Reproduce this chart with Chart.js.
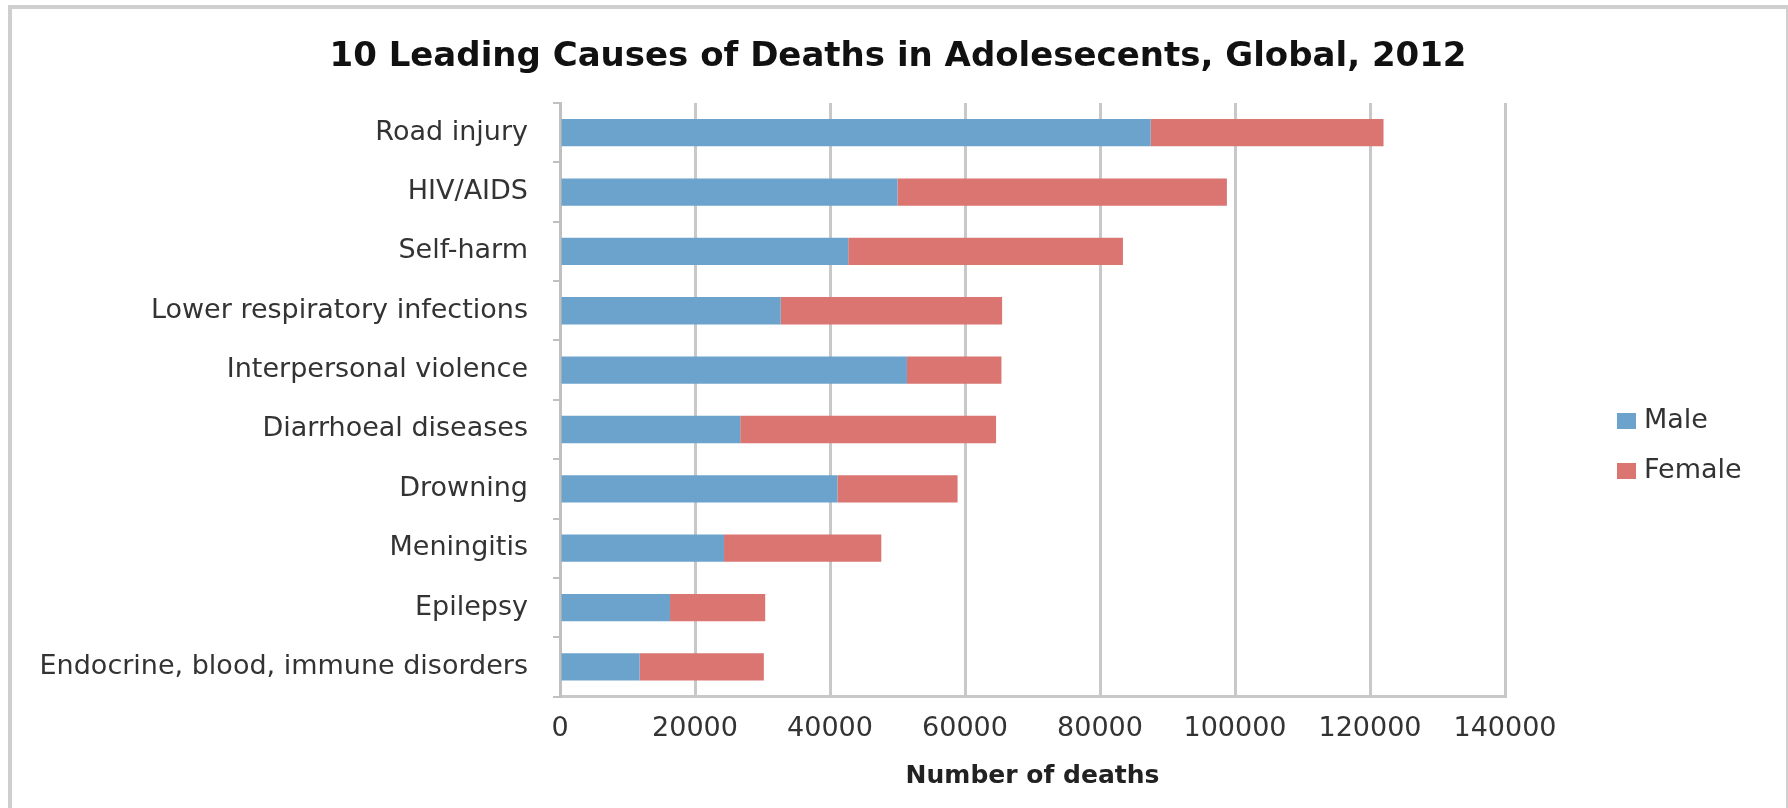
<!DOCTYPE html>
<html>
<head>
<meta charset="utf-8">
<script src="https://cdn.jsdelivr.net/npm/chart.js@4/dist/chart.umd.min.js"></script>
<style>
    body { margin: 0; background: #fff; overflow: hidden; }
    #wrap { position: relative; width: 1788px; height: 808px; overflow: hidden; }
    #frame { position: absolute; left: 8px; top: 5px; width: 1782px; height: 840px; border: 4px solid #cfcfcf; box-sizing: border-box; }
    #title { position: absolute; left: 0; width: 1796px; top: 33px; text-align: center; font: bold 34px "DejaVu Sans", sans-serif; color: #111; line-height: 42px; }
    .leg { position: absolute; left: 1617px; font: 27px "DejaVu Sans", sans-serif; color: #333; line-height: 32px; }
    .leg span { display: inline-block; width: 19px; height: 16px; margin-right: 8px; vertical-align: -1px; }
</style>
</head>
<body>
<div id="wrap">
    <div id="frame"></div>
    <canvas id="deathsChart"></canvas>
    <div id="title">10 Leading Causes of Deaths in Adolesecents, Global, 2012</div>
    <div class="leg" id="legMale" style="top:403px"><span></span>Male</div>
    <div class="leg" id="legFemale" style="top:453px"><span></span>Female</div>
</div>
<script>
        let causes = ["Road injury", "HIV/AIDS", "Self-harm", "Lower respiratory infections", "Interpersonal violence",
            "Diarrhoeal diseases", "Drowning", "Meningitis", "Epilepsy", "Endocrine, blood, immune disorders"];
        let male = [87500, 50000, 42700, 32700, 51400, 26700, 41100, 24300, 16300, 11800];
        let female = [34500, 48800, 40700, 32800, 14000, 37900, 17800, 23300, 14100, 18400];
        let xTicks = [0, 20000, 40000, 60000, 80000, 100000, 120000, 140000];

        let maleColor = "#6ca3cc";
        let femaleColor = "#da7571";

        document.querySelector("#legMale span").style.background = maleColor;
        document.querySelector("#legFemale span").style.background = femaleColor;

        let ctx = document.getElementById("deathsChart").getContext("2d");
        let deathsChart = new Chart(ctx, {
            type: "bar",
            data: {
                labels: causes,
                datasets: [
                    { label: "Male", backgroundColor: maleColor, data: male },
                    { label: "Female", backgroundColor: femaleColor, data: female }
                ]
            },
            options: {
                indexAxis: "y",
                responsive: true,
                maintainAspectRatio: false,
                animation: false,
                layout: { padding: { left: 0, right: 283, top: 103, bottom: 13 } },
                datasets: { bar: { categoryPercentage: 1, barPercentage: 0.46 } },
                plugins: {
                    legend: { display: false },
                    tooltip: { enabled: false }
                },
                scales: {
                    x: {
                        stacked: true,
                        min: 0,
                        max: xTicks[xTicks.length - 1],
                        afterBuildTicks: (scale) => { scale.ticks = xTicks.map(v => ({ value: v })); },
                        grid: { color: "#c8c8c8", lineWidth: 3, drawTicks: false },
                        border: { color: "#c8c8c8", width: 3 },
                        ticks: {
                            color: "#333", padding: 16,
                            font: { family: "DejaVu Sans", size: 27 },
                            callback: (v) => String(v)
                        },
                        title: {
                            display: true,
                            text: "Number of deaths",
                            color: "#222",
                            font: { family: "DejaVu Sans", size: 25, weight: "bold" },
                            padding: { top: 0, bottom: 4 }
                        }
                    },
                    y: {
                        stacked: true,
                        afterFit: (scale) => { scale.width = 560; },
                        grid: { offset: true, drawOnChartArea: false, tickLength: 7, color: "#c0c0c0", lineWidth: 2 },
                        border: { color: "#c0c0c0", width: 3 },
                        ticks: { color: "#333", padding: 25, autoSkip: false, font: { family: "DejaVu Sans", size: 27 } }
                    }
                }
            }
        });
</script>
</body>
</html>
